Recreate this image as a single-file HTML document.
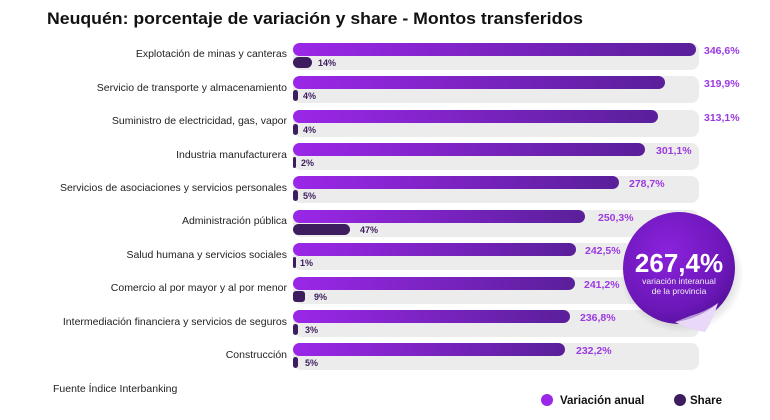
<!DOCTYPE html>
<html><head><meta charset="utf-8"><style>
html,body{margin:0;padding:0;background:#fff;}
svg{display:block;font-family:"Liberation Sans",sans-serif;}
</style></head><body>
<svg width="770" height="420" viewBox="0 0 770 420" xmlns="http://www.w3.org/2000/svg">
<defs>
<linearGradient id="g" x1="0" x2="1" y1="0" y2="0">
<stop offset="0" stop-color="#9b27e8"/><stop offset="1" stop-color="#5a1f9a"/>
</linearGradient>
<radialGradient id="s" cx="0.4" cy="0.35" r="0.75">
<stop offset="0" stop-color="#8a22dc"/><stop offset="0.7" stop-color="#6c17b8"/><stop offset="1" stop-color="#4d1090"/>
</radialGradient>
<radialGradient id="sh" cx="0.5" cy="0.5" r="0.5">
<stop offset="0.6" stop-color="#000" stop-opacity="0.25"/><stop offset="1" stop-color="#000" stop-opacity="0"/>
</radialGradient>
</defs>
<text x="47" y="24" font-size="17" font-weight="bold" fill="#111" textLength="536" lengthAdjust="spacingAndGlyphs">Neuquén: porcentaje de variación y share - Montos transferidos</text>
<g font-size="10.5" fill="#222" text-anchor="end">
<text x="287" y="57">Explotación de minas y canteras</text>
<text x="287" y="91">Servicio de transporte y almacenamiento</text>
<text x="287" y="124">Suministro de electricidad, gas, vapor</text>
<text x="287" y="158">Industria manufacturera</text>
<text x="287" y="191">Servicios de asociaciones y servicios personales</text>
<text x="287" y="224">Administración pública</text>
<text x="287" y="258">Salud humana y servicios sociales</text>
<text x="287" y="291">Comercio al por mayor y al por menor</text>
<text x="287" y="325">Intermediación financiera y servicios de seguros</text>
<text x="287" y="358">Construcción</text>
</g>
<g fill="#ececec">
<rect x="293" y="43" width="406" height="27" rx="8"/>
<rect x="293" y="76" width="406" height="27" rx="8"/>
<rect x="293" y="110" width="406" height="27" rx="8"/>
<rect x="293" y="143" width="406" height="27" rx="8"/>
<rect x="293" y="176" width="406" height="27" rx="8"/>
<rect x="293" y="210" width="406" height="27" rx="8"/>
<rect x="293" y="243" width="406" height="27" rx="8"/>
<rect x="293" y="277" width="406" height="27" rx="8"/>
<rect x="293" y="310" width="406" height="27" rx="8"/>
<rect x="293" y="343" width="406" height="27" rx="8"/>
</g>
<g fill="url(#g)">
<rect x="293" y="43" width="403" height="13" rx="6.5"/>
<rect x="293" y="76" width="372" height="13" rx="6.5"/>
<rect x="293" y="110" width="365" height="13" rx="6.5"/>
<rect x="293" y="143" width="352" height="13" rx="6.5"/>
<rect x="293" y="176" width="326" height="13" rx="6.5"/>
<rect x="293" y="210" width="292" height="13" rx="6.5"/>
<rect x="293" y="243" width="283" height="13" rx="6.5"/>
<rect x="293" y="277" width="282" height="13" rx="6.5"/>
<rect x="293" y="310" width="277" height="13" rx="6.5"/>
<rect x="293" y="343" width="272" height="13" rx="6.5"/>
</g>
<g fill="#3d1d5e">
<rect x="293" y="57" width="19" height="11" rx="5.5"/>
<rect x="293" y="90" width="5" height="11" rx="2.5"/>
<rect x="293" y="124" width="5" height="11" rx="2.5"/>
<rect x="293" y="157" width="3" height="11" rx="1.5"/>
<rect x="293" y="190" width="5" height="11" rx="2.5"/>
<rect x="293" y="224" width="57" height="11" rx="5.5"/>
<rect x="293" y="257" width="3" height="11" rx="1.5"/>
<rect x="293" y="291" width="12" height="11" rx="3"/>
<rect x="293" y="324" width="5" height="11" rx="2.5"/>
<rect x="293" y="357" width="5" height="11" rx="2.5"/>
</g>
<g font-size="9" font-weight="bold" fill="#3d1d5e">
<text x="318" y="66">14%</text>
<text x="303" y="99">4%</text>
<text x="303" y="133">4%</text>
<text x="301" y="166">2%</text>
<text x="303" y="199">5%</text>
<text x="360" y="233">47%</text>
<text x="300" y="266">1%</text>
<text x="314" y="300">9%</text>
<text x="305" y="333">3%</text>
<text x="305" y="366">5%</text>
</g>
<g font-size="10.5" font-weight="bold" fill="#9b3ae0">
<text x="704" y="54">346,6%</text>
<text x="704" y="87">319,9%</text>
<text x="704" y="121">313,1%</text>
<text x="656" y="154">301,1%</text>
<text x="629" y="187">278,7%</text>
<text x="598" y="221">250,3%</text>
<text x="585" y="254">242,5%</text>
<text x="584" y="288">241,2%</text>
<text x="580" y="321">236,8%</text>
<text x="576" y="354">232,2%</text>
</g>
<ellipse cx="682" cy="275" rx="62" ry="58" fill="url(#sh)"/>
<circle cx="679" cy="268" r="56" fill="url(#s)"/>
<path d="M675 322 Q700 318 718 303 Q712 322 705 332 Q690 330 675 322Z" fill="#e9d8f7"/>
<path d="M675 322 Q700 318 718 303 Q705 312 690 316Z" fill="#b69ad6"/>
<text x="679" y="272" font-size="26" font-weight="bold" fill="#fff" text-anchor="middle">267,4%</text>
<text x="679" y="284" font-size="8.5" fill="#eee" text-anchor="middle">variación interanual</text>
<text x="679" y="294" font-size="8.5" fill="#eee" text-anchor="middle">de la provincia</text>
<text x="53" y="392" font-size="10.5" fill="#222">Fuente Índice Interbanking</text>
<circle cx="547" cy="400" r="6" fill="#9b27e8"/>
<text x="560" y="404" font-size="11.5" font-weight="bold" fill="#111">Variación anual</text>
<circle cx="680" cy="400" r="6" fill="#3d1d5e"/>
<text x="690" y="404" font-size="11.5" font-weight="bold" fill="#111">Share</text>
</svg>
</body></html>
